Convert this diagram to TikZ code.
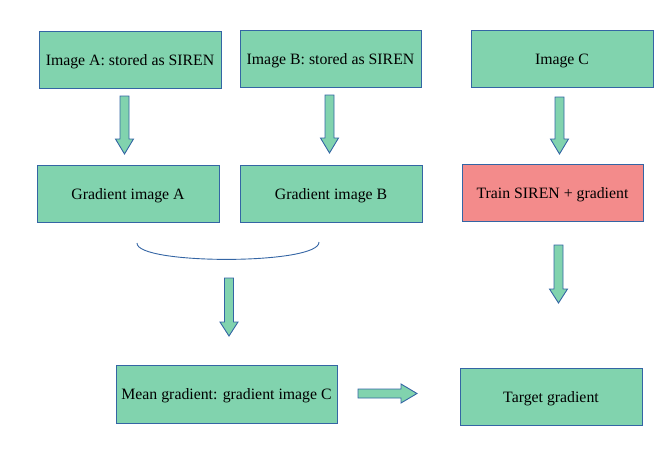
\documentclass[tikz,border=0pt]{standalone}
\usepackage{fontspec}
\setmainfont{Liberation Serif}
\definecolor{boxgreen}{RGB}{129,211,174}
\definecolor{boxred}{RGB}{243,139,139}
\definecolor{edgeblue}{RGB}{52,101,164}
\tikzset{
  box/.style={draw=edgeblue, line width=0.9pt, fill=boxgreen, inner sep=0pt, text height=12pt, text depth=1pt, font=\fontsize{15.8}{18}\selectfont, text=black},
  blockarrow/.style={draw=edgeblue, line width=0.9pt, fill=boxgreen, line join=miter},
  brace/.style={draw=edgeblue, line width=0.9pt}
}
% down arrow: center x, top y, head start y, tip y
\newcommand\dnblock[4]{%
  \path[blockarrow] (#1-4.5,#2) -- (#1+4.5,#2) -- (#1+4.5,#3) -- (#1+9,#3) -- (#1,#4) -- (#1-9,#3) -- (#1-4.5,#3) -- cycle;}
\begin{document}
\begin{tikzpicture}[x=1pt,y=-1pt]
\useasboundingbox (0,0) rectangle (672,459);
\node[box, minimum width=182pt, minimum height=57pt] (imgA) at (130,59.5) {Image A: stored as SIREN};
\node[box, minimum width=181pt, minimum height=57pt] (imgB) at (330.5,58.5) {Image B: stored as SIREN};
\node[box, minimum width=182pt, minimum height=57pt] (imgC) at (562,58.5) {Image C};
\node[box, minimum width=182pt, minimum height=57pt] (gradA) at (128,193.5) {Gradient image A};
\node[box, minimum width=182pt, minimum height=57pt] (gradB) at (331,193.5) {Gradient image B};
\node[box, fill=boxred, minimum width=181pt, minimum height=57pt] (train) at (552.5,192.5) {Train SIREN + gradient};
\node[box, minimum width=221pt, minimum height=58pt] (mean) at (226.5,394) {Mean gradient: gradient image C};
\node[box, minimum width=182pt, minimum height=57pt] (target) at (551,396.5) {Target gradient};
% block arrows
\dnblock{124.5}{96}{139}{154}
\dnblock{329.5}{95}{138}{153}
\dnblock{559.5}{97}{139}{154}
\dnblock{558.5}{245}{289}{303}
\dnblock{229}{278}{322}{336}
\path[blockarrow] (358,389) -- (401,389) -- (401,384) -- (417,393.5) -- (401,403) -- (401,398) -- (358,398) -- cycle;
% brace-like curve
\coordinate (bl) at (137,243);
\coordinate (br) at (319,242);
\draw[brace] (bl) .. controls (136,265) and (320,265) .. (br);
\end{tikzpicture}
\end{document}
